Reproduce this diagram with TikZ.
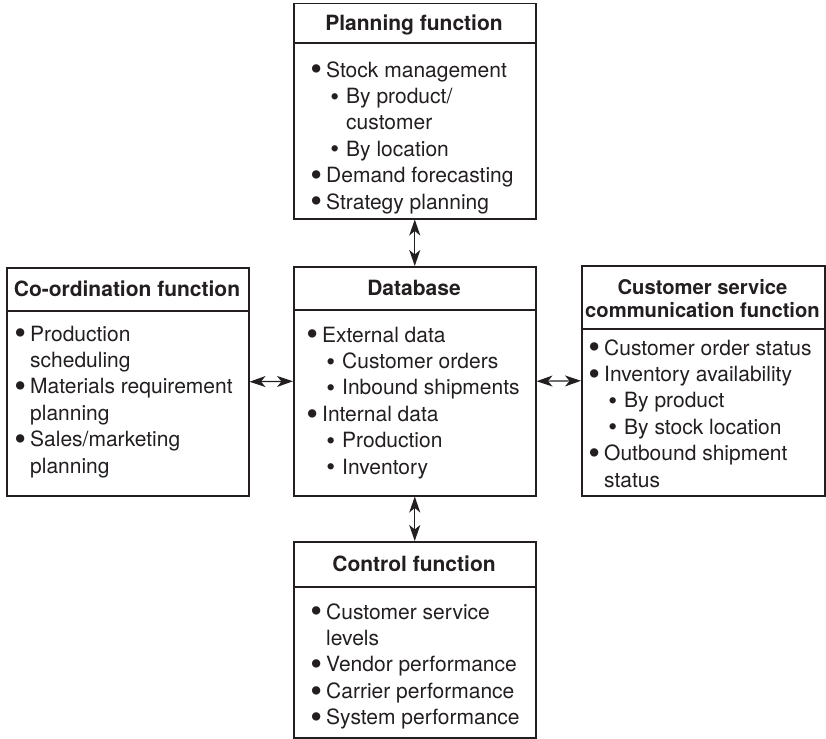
\documentclass[tikz,border=0pt]{standalone}
\usepackage{fontspec}
\usepackage{graphicx}
\setmainfont{TeX Gyre Heros}
\usetikzlibrary{arrows.meta}
\definecolor{ink}{RGB}{35,31,32}
\newcommand{\bitem}[1]{\strut\makebox[14pt][l]{\makebox[8pt][c]{\raisebox{-3.8pt}{\scalebox{1.6}{•}}}}#1}
\newcommand{\sitem}[1]{\strut\hspace*{20pt}\makebox[14pt][l]{\makebox[5pt][c]{\raisebox{-1.5pt}{\scalebox{1.2}{•}}}}#1}
\newcommand{\bcont}[1]{\strut\hspace*{14pt}#1}
\newcommand{\scont}[1]{\strut\hspace*{34pt}#1}
\tikzset{
  frame/.style={draw=ink, line width=1.5pt, inner sep=0pt, anchor=north west},
  rule/.style={draw=ink, line width=1.5pt},
  ttl/.style={font=\fontsize{21pt}{26.4pt}\selectfont\bfseries, text=ink, anchor=base, inner sep=0pt},
  body/.style={font=\fontsize{21pt}{26.4pt}\selectfont, text=ink, align=left, anchor=north west, inner sep=0pt},
  link/.style={draw=ink, line width=1.2pt, {Stealth[length=16pt,width=11pt,inset=4.5pt]}-{Stealth[length=16pt,width=11pt,inset=4.5pt]}},
}
\begin{document}
\begin{tikzpicture}[x=1pt,y=-1pt]
\useasboundingbox[fill=white] (0,0) rectangle (826,738);
% frames
\node[frame, minimum width=242pt, minimum height=215pt] (plan) at (293,3) {};
\node[frame, minimum width=242pt, minimum height=229pt] (db) at (293,266) {};
\node[frame, minimum width=242pt, minimum height=228pt] (coord) at (6,267) {};
\node[frame, minimum width=243pt, minimum height=230pt] (cs) at (581,265) {};
\node[frame, minimum width=242pt, minimum height=196pt] (ctrl) at (293,541) {};
% dividers
\draw[rule] (plan.west |- 0,43) -- (plan.east |- 0,43);
\draw[rule] (db.west |- 0,310) -- (db.east |- 0,310);
\draw[rule] (coord.west |- 0,311) -- (coord.east |- 0,311);
\draw[rule] (cs.west |- 0,329) -- (cs.east |- 0,329);
\draw[rule] (ctrl.west |- 0,587) -- (ctrl.east |- 0,587);
% titles
\node[ttl] (planT) at (414,30.5) {Planning function};
\node[ttl] (dbT) at (414,295.5) {Database};
\node[ttl] (coordT) at (127,296) {Co-ordination function};
\node[ttl, anchor=north, align=center, font=\fontsize{20.2pt}{23.5pt}\selectfont\bfseries] (csT) at (702.5,277.5) {\strut Customer service\\\strut communication function};
\node[ttl] (ctrlT) at (414,571.5) {Control function};
% bodies
\node[body] (planB) at (312,58.5) {\bitem{Stock management}\\\sitem{By product/}\\\scont{customer}\\\sitem{By location}\\\bitem{Demand forecasting}\\\bitem{Strategy planning}};
\node[body] (dbB) at (308,323.5) {\bitem{External data}\\\sitem{Customer orders}\\\sitem{Inbound shipments}\\\bitem{Internal data}\\\sitem{Production}\\\sitem{Inventory}};
\node[body] (coordB) at (16,322.5) {\bitem{Production}\\\bcont{scheduling}\\\bitem{Materials requirement}\\\bcont{planning}\\\bitem{Sales/marketing}\\\bcont{planning}};
\node[body] (csB) at (590,336.5) {\bitem{Customer order status}\\\bitem{Inventory availability}\\\sitem{By product}\\\sitem{By stock location}\\\bitem{Outbound shipment}\\\bcont{status}};
\node[body] (ctrlB) at (312,600.5) {\bitem{Customer service}\\\bcont{levels}\\\bitem{Vendor performance}\\\bitem{Carrier performance}\\\bitem{System performance}};
% connectors
\draw[link] (plan.south) -- (db.north);
\draw[link] (db.south) -- (ctrl.north);
\draw[link] (coord.east) -- (db.west);
\draw[link] (db.east) -- (cs.west);
\end{tikzpicture}
\end{document}
